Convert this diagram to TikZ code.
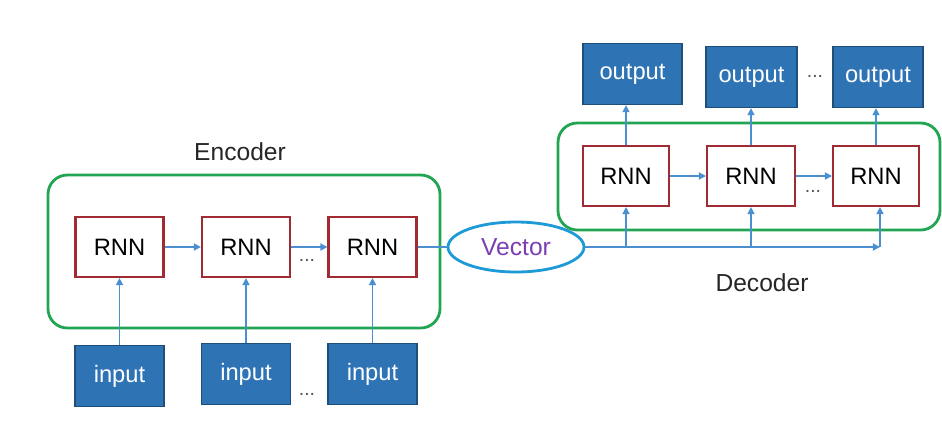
\documentclass[tikz,border=0pt]{standalone}
\usepackage{fontspec}
\setmainfont{Liberation Sans}
\usetikzlibrary{arrows.meta, positioning, shapes.geometric, calc, backgrounds}
\definecolor{iofill}{HTML}{2E74B5}
\definecolor{ioedge}{HTML}{1F4E79}
\definecolor{rnnred}{HTML}{A02B32}
\definecolor{framegreen}{HTML}{22A552}
\definecolor{linkblue}{HTML}{4A8FD0}
\definecolor{vecring}{HTML}{1E9BD7}
\definecolor{vectext}{HTML}{7B3FB3}
\definecolor{dotgray}{HTML}{555555}

\begin{document}
\begin{tikzpicture}[
    x=0.02cm, y=-0.02cm,
    >={Triangle[length=4pt, width=4pt]},
    % ── shared styles ──
    rnn cell/.style={draw=rnnred, line width=1.2pt, fill=white,
        minimum width=1.76cm, minimum height=1.2cm, inner sep=0pt,
        font=\fontsize{13.5}{16}\selectfont},
    io box/.style={draw=ioedge, line width=0.8pt, fill=iofill, text=white,
        minimum width=#1, minimum height=1.22cm, inner sep=0pt,
        font=\fontsize{13.5}{16}\selectfont},
    io box/.default=1.78cm,
    group frame/.style={draw=framegreen, line width=1.6pt, rounded corners=11pt},
    group label/.style={font=\fontsize{14}{17}\selectfont, text=black!85},
    vec node/.style={ellipse, draw=vecring, line width=1.6pt, fill=white,
        minimum width=2.72cm, minimum height=1.0cm, inner sep=0pt,
        text=vectext, font=\fontsize{14}{17}\selectfont},
    link/.style={->, draw=linkblue, line width=0.8pt, color=linkblue},
    plain link/.style={draw=linkblue, line width=0.8pt},
    gap dots/.style={font=\fontsize{11}{13}\selectfont, text=dotgray},
]

% ══════════════════════════════════════════════════════════════════════
%  ENCODER
% ══════════════════════════════════════════════════════════════════════
\node[rnn cell] (enc1) at (119.5,247) {RNN};
\node[rnn cell] (enc2) at (246,247)   {RNN};
\node[rnn cell] (enc3) at (372.5,247) {RNN};

\node[io box] (in1) at (119.5,376) {input};
\node[io box] (in2) at (246,374)   {input};
\node[io box] (in3) at (372.5,374) {input};

\node[group label] (enclabel) at (240,152) {Encoder};

% ══════════════════════════════════════════════════════════════════════
%  VECTOR
% ══════════════════════════════════════════════════════════════════════
\node[vec node] (vec) at (516,247) {Vector};

% ══════════════════════════════════════════════════════════════════════
%  DECODER
% ══════════════════════════════════════════════════════════════════════
\node[rnn cell, minimum width=1.72cm] (dec1) at (626,176) {RNN};
\node[rnn cell, minimum width=1.76cm] (dec2) at (751,176) {RNN};
\node[rnn cell, minimum width=1.72cm] (dec3) at (876,176) {RNN};

\node[io box=1.98cm] (out1) at (632.5,74) {output};
\node[io box=1.82cm] (out2) at (751.5,77) {output};
\node[io box=1.80cm] (out3) at (878,77)   {output};

\node[group label] (declabel) at (762,283) {Decoder};

% ══════════════════════════════════════════════════════════════════════
%  CANVAS + FRAMES
% ══════════════════════════════════════════════════════════════════════
\begin{scope}[on background layer]
  \fill[white] (0,0) rectangle (942,424);
  \draw[group frame] (48,175) rectangle (440,328);
  \draw[group frame] (558,123) rectangle (940,230);
\end{scope}
\useasboundingbox (0,0) rectangle (942,424);

% ══════════════════════════════════════════════════════════════════════
%  CONNECTORS
% ══════════════════════════════════════════════════════════════════════
\draw[link] (enc1) -- (enc2);
\draw[link] (enc2) -- (enc3);
\foreach \i in {1,2,3} {
  \draw[link] (in\i) -- (enc\i);
}
\draw[plain link] (enc3) -- (vec);

\coordinate (vecend) at ($(dec3.south |- vec.east)+(4,0)$);
\draw[link] (vec.east) -- (vecend);
\draw[link] (vecend) -- (vecend |- dec3.south);
\draw[link] (dec1.south |- vec.east) -- (dec1.south);
\draw[link] (dec2.south |- vec.east) -- (dec2.south);

\draw[link] (dec1) -- (dec2);
\draw[link] (dec2) -- (dec3);
\foreach \i in {1,2,3} {
  \draw[link] (dec\i.north) -- (dec\i.north |- out\i.south);
}

% gaps
\node[gap dots] (encdots) at (307,260) {...};
\node[gap dots] (indots)  at (307,394) {...};
\node[gap dots] (decdots) at (813,191) {...};
\node[gap dots] (outdots) at (815,76)  {...};

\end{tikzpicture}
\end{document}
